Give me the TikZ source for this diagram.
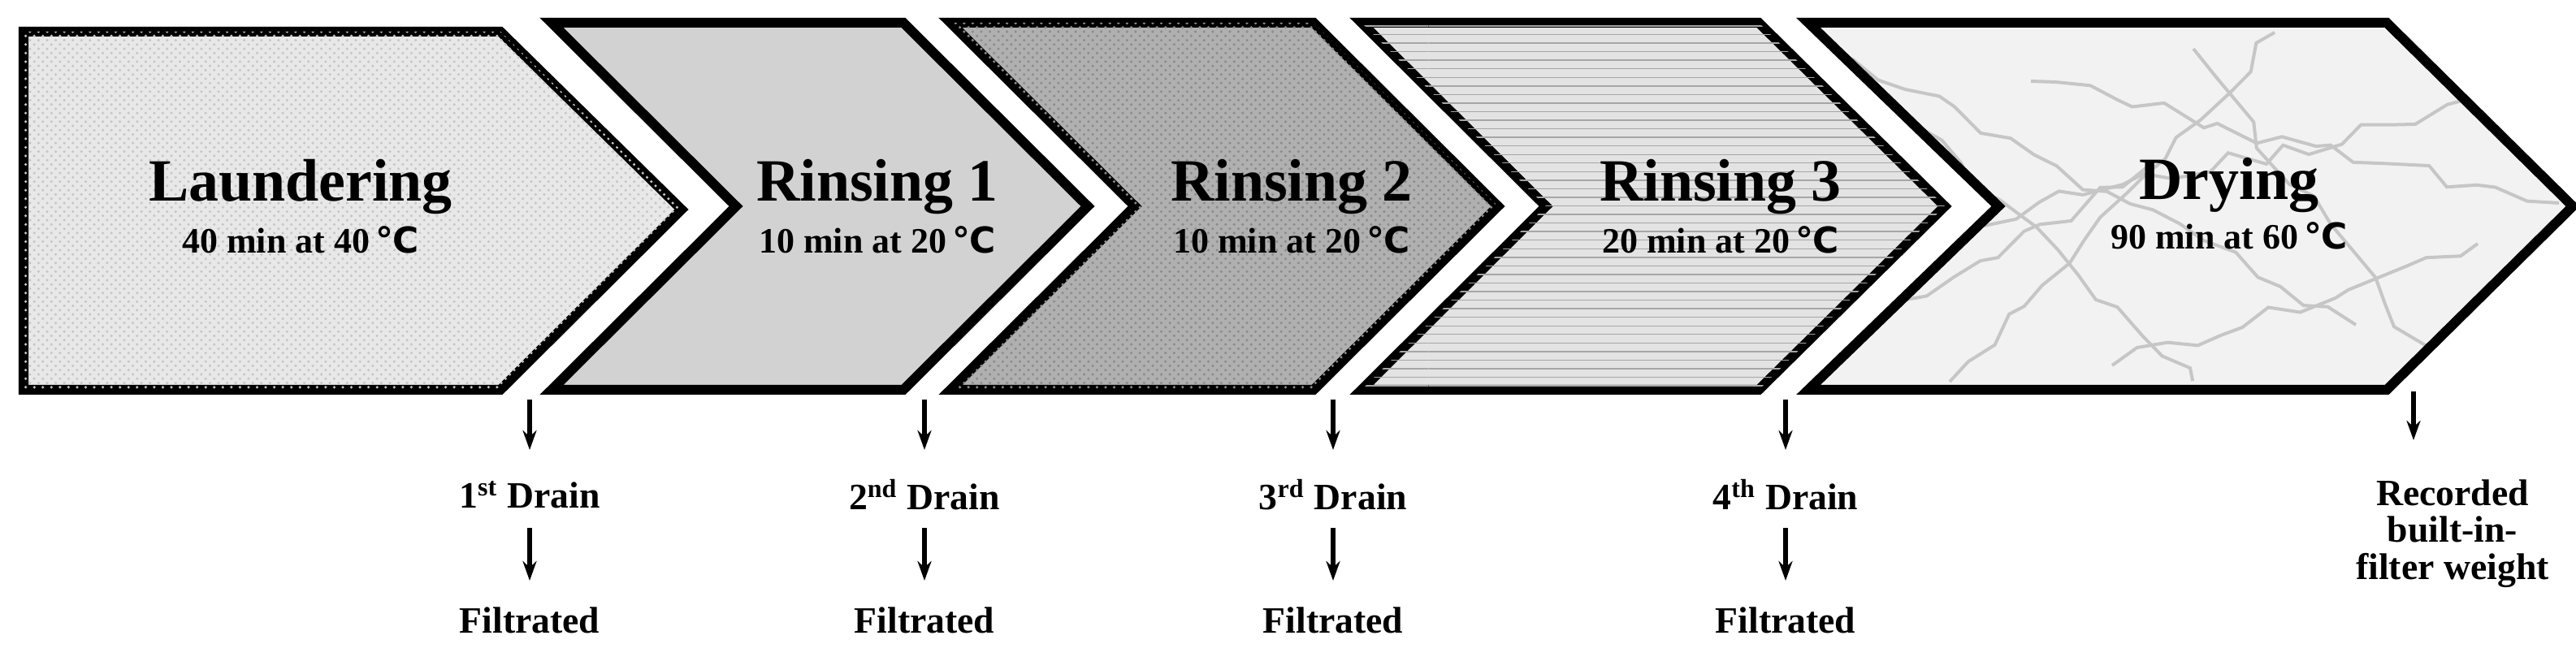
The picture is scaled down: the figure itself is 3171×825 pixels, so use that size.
\documentclass[tikz,border=0pt]{standalone}
\usepackage{fontspec}
\setmainfont{Liberation Serif}
\newfontfamily\dv{DejaVu Sans}
\newcommand{\degc}{\,{\dv ℃}}
\usetikzlibrary{patterns,arrows.meta,decorations.pathmorphing}
\begin{document}
\begin{tikzpicture}[x=0.01cm,y=-0.01cm,
  box/.style={draw=black,line width=0.12cm,line join=miter},
  ttl/.style={font=\fontsize{21}{24}\selectfont\bfseries},
  sub/.style={font=\fontsize{12.5}{14}\selectfont\bfseries},
  lab/.style={font=\fontsize{13}{15}\selectfont\bfseries,align=center},
  arr/.style={line width=0.06cm,-{Stealth[length=0.24cm,width=0.17cm]}}]
\useasboundingbox (0,0) rectangle (3171,825);
% chevrons
\path[box,fill=gray!18] (29,39) -- (616,39) -- (839,258) -- (616,480) -- (29,480) -- cycle;
\path[pattern=crosshatch dots,pattern color=gray!45] (29,39) -- (616,39) -- (839,258) -- (616,480) -- (29,480) -- cycle;
\path[box,fill=gray!35] (679,28) -- (1112,28) -- (1339,254) -- (1112,480) -- (679,480) -- (906,254) -- cycle;
\path[box,fill=gray!62] (1170,28) -- (1617,28) -- (1844,254) -- (1617,480) -- (1170,480) -- (1397,254) -- cycle;
\path[pattern=crosshatch dots,pattern color=gray!90] (1170,28) -- (1617,28) -- (1844,254) -- (1617,480) -- (1170,480) -- (1397,254) -- cycle;
\path[box,fill=gray!22] (1676,28) -- (2165,28) -- (2394,254) -- (2165,480) -- (1676,480) -- (1903,254) -- cycle;
\path[pattern=horizontal lines,pattern color=gray!70] (1676,28) -- (2165,28) -- (2394,254) -- (2165,480) -- (1676,480) -- (1903,254) -- cycle;
\path[fill=gray!10] (2226,28) -- (2938,28) -- (3167,254) -- (2938,480) -- (2226,480) -- (2460,254) -- cycle;
\begin{scope}
\clip (2226,28) -- (2938,28) -- (3167,254) -- (2938,480) -- (2226,480) -- (2460,254) -- cycle;
\pgfmathsetseed{7}
\foreach \a/\b/\c/\d in {2250/60/2900/400,2300/300/3100/120,2400/470/2800/40,2600/450/3050/300,2350/150/2700/470,2700/60/3000/460,2500/100/3150/250,2280/420/2650/200}{
  \draw[gray!45,line width=0.04cm,decorate,decoration={random steps,segment length=0.35cm,amplitude=0.12cm}] (\a,\b) -- (\c,\d);}
\end{scope}
\path[box] (2226,28) -- (2938,28) -- (3167,254) -- (2938,480) -- (2226,480) -- (2460,254) -- cycle;
% titles
\node[ttl] (t1) at (370,230) {Laundering};
\node[sub] (s1) at (370,295) {40 min at 40\degc};
\node[ttl] (t2) at (1080,230) {Rinsing 1};
\node[sub] (s2) at (1080,295) {10 min at 20\degc};
\node[ttl] (t3) at (1590,230) {Rinsing 2};
\node[sub] (s3) at (1590,295) {10 min at 20\degc};
\node[ttl] (t4) at (2118,230) {Rinsing 3};
\node[sub] (s4) at (2118,295) {20 min at 20\degc};
\node[ttl] (t5) at (2744,228) {Drying};
\node[sub] (s5) at (2744,290) {90 min at 60\degc};
% drains
\foreach \i/\x/\s in {1/652/st,2/1138/nd,3/1641/rd,4/2198/th}{
  \coordinate (a\i) at (\x,492);
  \coordinate (b\i) at (\x,554);
  \coordinate (c\i) at (\x,650);
  \coordinate (e\i) at (\x,715);
  \node[lab] (d\i) at (\x,609) {\i\textsuperscript{\s} Drain};
  \node[lab] (f\i) at (\x,764) {Filtrated};
  \draw[arr] (a\i) -- (b\i);
  \draw[arr] (c\i) -- (e\i);
}
\coordinate (a5) at (2971,482);
\coordinate (b5) at (2971,542);
\node[lab] (r5) at (3019,657) {Recorded\\[-2pt]built-in-\\[-2pt]filter weight};
\draw[arr] (a5) -- (b5);
\end{tikzpicture}
\end{document}
